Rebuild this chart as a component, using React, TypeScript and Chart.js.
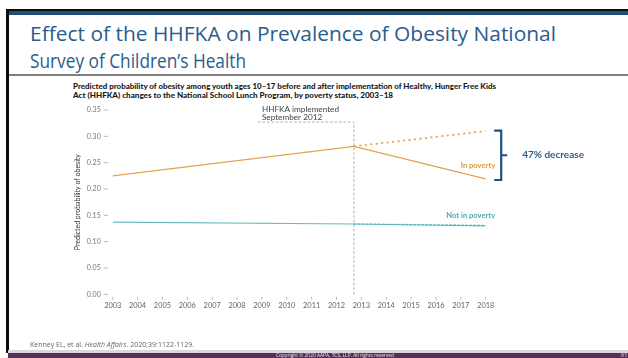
import React, { useEffect, useLayoutEffect, useRef } from "react";
import { Chart, registerables } from "chart.js";

Chart.register(...registerables);

// ---------------- data ----------------
const yearTicks = [2003, 2004, 2005, 2006, 2007, 2008, 2009, 2010, 2011, 2012, 2013, 2014, 2015, 2016, 2017, 2018];
const yTicks = [0, 0.05, 0.1, 0.15, 0.2, 0.25, 0.3, 0.35];
const policyYear = 2012.7;

const inPovertyYears = [2003, 2012.7, 2018];
const inPovertyValues = [0.225, 0.281, 0.219];
const inPovertyCfYears = [2012.7, 2018];
const inPovertyCfValues = [0.281, 0.31];

const notPovertyYears = [2003, 2012.7, 2018];
const notPovertyValues = [0.137, 0.1335, 0.13];
const notPovertyCfYears = [2012.7, 2018];
const notPovertyCfValues = [0.1335, 0.131];

const seriesLabels = ["In poverty", "Not in poverty"];
const policyLabel = ["HHFKA implemented", "September 2012"];
const effectLabel = "47% decrease";

const titleLines = ["Effect of the HHFKA on Prevalence of Obesity National", "Survey of Children\u2019s Health"];
const subtitleLines = [
  "Predicted probability of obesity among youth ages 10\u201317 before and after implementation of Healthy, Hunger Free Kids",
  "Act (HHFKA) changes to the National School Lunch Program, by poverty status, 2003\u201318",
];
const yAxisTitle = "Predicted probability of obesity";
const copyright = "Copyright \u00a9 2020 AAPA, TCS, LLP. All rights reserved";

const ORANGE = "#e4a24c";
const ORANGE_TEXT = "#db9a3e";
const TEAL = "#68bcbc";
const TEAL_DARK = "#4fa8aa";
const BLUE = "#2a5d8c";
const FONT = "Lato, 'Noto Sans', sans-serif";

const zip = (xs: number[], ys: number[]) => xs.map((x, i) => ({ x, y: ys[i] }));

function FitText(props: { children: React.ReactNode; width: number; style: React.CSSProperties }) {
  const ref = useRef<HTMLDivElement | null>(null);
  useLayoutEffect(() => {
    const el = ref.current;
    if (!el) return;
    el.style.transform = "none";
    const w = el.getBoundingClientRect().width;
    if (w > 0) el.style.transform = `scaleX(${props.width / w})`;
  }, [props.width]);
  return (
    <div
      ref={ref}
      style={{ position: "absolute", whiteSpace: "nowrap", transformOrigin: "left center", ...props.style }}
    >
      {props.children}
    </div>
  );
}

const overlayPlugin = {
  id: "overlay",
  afterDraw(chart: any) {
    const { ctx, chartArea } = chart;
    const xs = chart.scales.x;
    const ys = chart.scales.y;
    ctx.save();
    // y tick marks
    ctx.strokeStyle = "#aaaaaa";
    ctx.lineWidth = 0.8;
    yTicks.forEach((v) => {
      const y = ys.getPixelForValue(v);
      ctx.beginPath();
      ctx.moveTo(chartArea.left - 9, y);
      ctx.lineTo(chartArea.left - 4.5, y);
      ctx.stroke();
    });
    // x tick marks
    yearTicks.forEach((v) => {
      const x = xs.getPixelForValue(v);
      ctx.beginPath();
      ctx.moveTo(x, chartArea.bottom + 2.5);
      ctx.lineTo(x, chartArea.bottom + 5.5);
      ctx.stroke();
    });
    // policy dashed line
    const px = xs.getPixelForValue(policyYear);
    const topY = ys.getPixelForValue(0.327);
    ctx.strokeStyle = "#9a9a9a";
    ctx.lineWidth = 0.8;
    ctx.setLineDash([2.5, 2]);
    ctx.beginPath();
    ctx.moveTo(px, chartArea.bottom);
    ctx.lineTo(px, topY);
    ctx.lineTo(xs.getPixelForValue(2008.84), topY);
    ctx.stroke();
    ctx.setLineDash([]);
    // policy label
    ctx.fillStyle = "#444444";
    ctx.font = `8.2px ${FONT}`;
    ctx.textAlign = "left";
    ctx.textBaseline = "middle";
    const lx = xs.getPixelForValue(2009.0);
    ctx.fillText(policyLabel[0], lx, topY - 12.8);
    ctx.fillText(policyLabel[1], lx, topY - 5.2);
    // series labels
    const endX = xs.getPixelForValue(2018);
    ctx.textAlign = "right";
    ctx.font = `bold 7.6px ${FONT}`;
    ctx.fillStyle = ORANGE_TEXT;
    ctx.fillText(seriesLabels[0], endX + 9.5, ys.getPixelForValue(0.245));
    ctx.fillStyle = TEAL_DARK;
    ctx.fillText(seriesLabels[1], endX + 9.5, ys.getPixelForValue(0.1495));
    // bracket
    const bTop = ys.getPixelForValue(inPovertyCfValues[1]) - 0.5;
    const bBot = ys.getPixelForValue(inPovertyValues[2]) + 1;
    const bx = endX + 15.5;
    ctx.strokeStyle = "#1f5282";
    ctx.lineWidth = 2.2;
    ctx.beginPath();
    ctx.moveTo(bx - 7, bTop);
    ctx.lineTo(bx, bTop);
    ctx.lineTo(bx, bBot);
    ctx.lineTo(bx - 7, bBot);
    ctx.moveTo(bx, (bTop + bBot) / 2);
    ctx.lineTo(bx + 6, (bTop + bBot) / 2);
    ctx.stroke();
    ctx.fillStyle = BLUE;
    ctx.font = `bold 10px ${FONT}`;
    ctx.textAlign = "left";
    ctx.fillText(effectLabel, bx + 21, (bTop + bBot) / 2);
    ctx.restore();
  },
};

export default function App() {
  const canvasRef = useRef<HTMLCanvasElement | null>(null);

  useEffect(() => {
    const canvas = canvasRef.current;
    if (!canvas) return;
    const chart = new Chart(canvas, {
      type: "line",
      data: {
        datasets: [
          {
            label: seriesLabels[1] + " (projected)",
            data: zip(notPovertyCfYears, notPovertyCfValues),
            borderColor: TEAL_DARK,
            borderWidth: 1.3,
            borderDash: [1.5, 2.5],
            pointRadius: 0,
          },
          {
            label: seriesLabels[1],
            data: zip(notPovertyYears, notPovertyValues),
            borderColor: TEAL,
            borderWidth: 1.2,
            pointRadius: 0,
          },
          {
            label: seriesLabels[0] + " (projected)",
            data: zip(inPovertyCfYears, inPovertyCfValues),
            borderColor: ORANGE,
            borderWidth: 1.8,
            borderDash: [2, 3.5],
            pointRadius: 0,
          },
          {
            label: seriesLabels[0],
            data: zip(inPovertyYears, inPovertyValues),
            borderColor: ORANGE,
            borderWidth: 1.3,
            pointRadius: 0,
          },
        ],
      },
      options: {
        animation: false,
        responsive: false,
        maintainAspectRatio: false,
        events: [],
        layout: { padding: { left: 74, right: 142.3, top: 110, bottom: 0 } },
        plugins: {
          legend: { display: false },
          tooltip: { enabled: false },
          title: { display: false },
        },
        scales: {
          x: {
            type: "linear",
            min: 2003,
            max: 2018,
            afterBuildTicks: (s: any) => {
              s.ticks = yearTicks.map((v) => ({ value: v }));
            },
            ticks: {
              callback: (v: any) => String(v),
              font: { family: FONT, size: 7.4 },
              color: "#666666",
              padding: 6.5,
              maxRotation: 0,
              autoSkip: false,
            },
            grid: { display: false, drawTicks: false },
            border: { display: false },
            afterFit: (s: any) => {
              s.height = 358 - 294.3;
            },
          },
          y: {
            min: 0,
            max: 0.35,
            afterBuildTicks: (s: any) => {
              s.ticks = yTicks.map((v) => ({ value: v }));
            },
            ticks: {
              callback: (v: any) => Number(v).toFixed(2),
              font: { family: FONT, size: 7 },
              color: "#777777",
              padding: 12,
            },
            grid: { display: false, drawTicks: false },
            border: { display: false },
            title: {
              display: true,
              text: yAxisTitle,
              font: { family: FONT, size: 7 },
              color: "#333333",
              padding: 0,
            },
            afterFit: (s: any) => {
              s.width = 112.7 - 74;
            },
          },
        },
      },
      plugins: [overlayPlugin],
    } as any);
    return () => chart.destroy();
  }, []);

  return (
    <div style={{ position: "fixed", left: 0, top: 0, width: 628, height: 358, background: "#ffffff", overflow: "hidden" }}>
      {/* slide frame */}
      <div style={{ position: "absolute", left: 6, top: 9, width: 622, height: 2, background: "#0d0d0d" }} />
      <div style={{ position: "absolute", left: 8, top: 11, width: 620, height: 4, background: "#1f4e79" }} />
      <div style={{ position: "absolute", left: 6, top: 9, width: 2.5, height: 344, background: "#0d0d0d" }} />
      <div style={{ position: "absolute", left: 8.5, top: 74, width: 620, height: 2, background: "#808080" }} />
      {/* title */}
      <FitText
        width={526}
        style={{ left: 30, top: 20.5, fontFamily: "'Open Sans', sans-serif", fontSize: 20, lineHeight: "26px", color: BLUE }}
      >
        {titleLines[0]}
      </FitText>
      <FitText
        width={216}
        style={{ left: 30, top: 47.5, fontFamily: "'Open Sans', sans-serif", fontSize: 20, lineHeight: "26px", color: BLUE }}
      >
        {titleLines[1]}
      </FitText>
      {/* subtitle */}
      <FitText
        width={423}
        style={{ left: 73, top: 82, fontFamily: FONT, fontWeight: 900, fontSize: 7, lineHeight: "9px", color: "#1a1a1a" }}
      >
        {subtitleLines[0]}
      </FitText>
      <FitText
        width={320}
        style={{ left: 73, top: 91, fontFamily: FONT, fontWeight: 900, fontSize: 7, lineHeight: "9px", color: "#1a1a1a" }}
      >
        {subtitleLines[1]}
      </FitText>
      {/* chart */}
      <canvas ref={canvasRef} width={628} height={358} style={{ position: "absolute", left: 0, top: 0, width: 628, height: 358 }} />
      {/* citation */}
      <FitText
        width={164}
        style={{ left: 30, top: 340.5, fontFamily: "'Open Sans', sans-serif", fontSize: 6.4, lineHeight: "8px", color: "#666666" }}
      >
        Kenney EL, et al. <i>Health Affairs</i>. 2020;39:1122-1129.
      </FitText>
      {/* footer */}
      <div style={{ position: "absolute", left: 8, top: 350, width: 620, height: 3.3, background: "#d9d9d9" }} />
      <div style={{ position: "absolute", left: 8, top: 353.3, width: 620, height: 5, background: "#5a2d5c", overflow: "hidden" }}>
        <FitText
          width={118}
          style={{ left: 268, top: -1.5, fontFamily: "'Open Sans', sans-serif", fontSize: 5.5, lineHeight: "7px", color: "#e8dfe8" }}
        >
          {copyright}
        </FitText>
        <div style={{ position: "absolute", left: 613, top: -1.5, fontFamily: "'Open Sans', sans-serif", fontSize: 5.5, lineHeight: "7px", color: "#e8dfe8" }}>
          61
        </div>
      </div>
    </div>
  );
}
